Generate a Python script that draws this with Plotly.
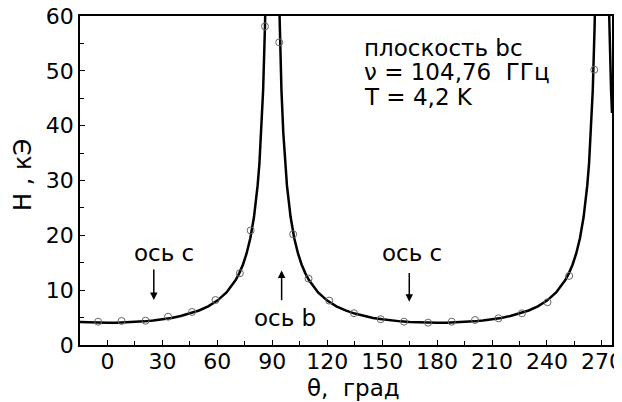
import plotly.graph_objects as go

# measured points (theta, deg ; H, kOe)
theta_pts = [-5.1, 7.7, 20.8, 33.1, 46.2, 59.0, 72.3, 78.2, 86.0, 93.8, 101.4, 109.8,
             121.1, 134.6, 149.2, 161.9, 175.1, 188.0, 200.7, 213.5, 226.3, 240.3, 252.1, 265.8]
H_pts = [4.25, 4.38, 4.43, 5.16, 6.02, 8.2, 13.1, 20.9, 58.1, 55.2, 20.2, 12.1,
         8.1, 5.8, 4.7, 4.25, 4.07, 4.25, 4.56, 4.87, 5.78, 7.8, 12.6, 50.2]

# fitted curve, three branches (None = break at resonance)
theta_fit = [
    -15, -10, -5, 0, 5, 10, 15, 20, 25, 30, 35, 40, 45, 50, 55, 60, 65, 70, 72, 74, 76, 78,
    80, 82, 83, 84, 85, 86, 86.5,
    None,
    93.5, 94, 95, 96, 97, 98, 100, 102, 104, 106, 108, 110, 115, 120, 125, 130, 135, 140,
    145, 150, 155, 160, 165, 170, 175, 180, 185, 190, 195, 200, 205, 210, 215, 220, 225,
    230, 235, 240, 245, 250, 252, 254, 256, 258, 260, 262, 263, 264, 265, 266, 266.5,
    None,
    273.5, 274, 275, 275.5,
]
H_fit = [
    4.19, 4.11, 4.07, 4.05, 4.07, 4.11, 4.19, 4.31, 4.47, 4.68, 4.94, 5.29, 5.73, 6.30, 7.06,
    8.10, 9.58, 11.84, 13.11, 14.69, 16.74, 19.48, 23.33, 29.10, 33.23, 38.75, 46.47, 58.06, 66.3,
    None,
    66.3, 58.06, 46.47, 38.75, 33.23, 29.10, 23.33, 19.48, 16.74, 14.69, 13.11, 11.84, 9.58,
    8.10, 7.06, 6.30, 5.73, 5.29, 4.94, 4.68, 4.47, 4.31, 4.19, 4.11, 4.07, 4.05, 4.07, 4.11,
    4.19, 4.31, 4.47, 4.68, 4.94, 5.29, 5.73, 6.30, 7.06, 8.10, 9.58, 11.84, 13.11, 14.69,
    16.74, 19.48, 23.33, 29.10, 33.23, 38.75, 46.47, 58.06, 66.3,
    None,
    66.3, 58.06, 46.47, 42.3,
]

x_ticks = [0, 30, 60, 90, 120, 150, 180, 210, 240, 270]
y_ticks = [0, 10, 20, 30, 40, 50, 60]

FONT = "DejaVu Sans, Liberation Sans, sans-serif"

fig = go.Figure()
fig.add_trace(go.Scatter(x=theta_fit, y=H_fit, mode="lines", connectgaps=False,
                         line=dict(color="black", width=2.5), showlegend=False))
fig.add_trace(go.Scatter(x=theta_pts, y=H_pts, mode="markers",
                         marker=dict(symbol="circle-open", size=7, color="#666",
                                     line=dict(width=1, color="#666")),
                         showlegend=False))

axis_common = dict(showline=True, linecolor="black", linewidth=1.5, mirror=True,
                   ticks="inside", ticklen=5, tickwidth=1, tickcolor="black",
                   showgrid=False, zeroline=False, automargin=False,
                   ticklabeloverflow="allow",
                   tickfont=dict(family=FONT, size=22, color="black"))

fig.update_xaxes(range=[-15, 275.5], tickvals=x_ticks, ticklabelstandoff=-4,
                 minor=dict(dtick=15, tick0=0, ticks="inside", ticklen=4, tickcolor="black"),
                 **axis_common)
fig.update_yaxes(range=[0, 60], tickvals=y_ticks,
                 minor=dict(dtick=5, tick0=0, ticks="inside", ticklen=4, tickcolor="black"),
                 **axis_common)

ann_font = dict(family=FONT, size=23, color="black")
title_font = dict(family=FONT, size=24, color="black")
annotations = [
    dict(x=0.515, y=-0.131, xref="paper", yref="paper", text="θ,  град", showarrow=False,
         font=dict(family=FONT, size=23, color="black"), xanchor="center", yanchor="middle"),
    dict(x=-0.107, y=0.517, xref="paper", yref="paper", text="H , кЭ", showarrow=False,
         font=title_font, textangle=-90, xanchor="center", yanchor="middle"),
    dict(x=138.8, y=54.2, text="плоскость bc", showarrow=False, xanchor="left", yanchor="middle", font=ann_font),
    dict(x=138.8, y=49.7, text="ν = 104,76  ГГц", showarrow=False, xanchor="left", yanchor="middle", font=ann_font),
    dict(x=138.8, y=45.3, text="T = 4,2 K", showarrow=False, xanchor="left", yanchor="middle", font=ann_font),
    dict(x=30.8, y=16.8, text="ось c", showarrow=False, font=ann_font),
    dict(x=166.1, y=16.7, text="ось c", showarrow=False, font=ann_font),
    dict(x=97, y=4.9, text="ось b", showarrow=False, font=ann_font),
    dict(x=25.3, y=8.2, ax=25.3, ay=14.05, axref="x", ayref="y", text="", showarrow=True,
         arrowhead=2, arrowsize=1, arrowwidth=1.5, arrowcolor="black"),
    dict(x=164.8, y=7.9, ax=164.8, ay=13.4, axref="x", ayref="y", text="", showarrow=True,
         arrowhead=2, arrowsize=1, arrowwidth=1.5, arrowcolor="black"),
    dict(x=95.1, y=13.6, ax=95.1, ay=7.9, axref="x", ayref="y", text="", showarrow=True,
         arrowhead=2, arrowsize=1, arrowwidth=1.5, arrowcolor="black"),
]

# the page body adds an 8 px offset, so the figure is 8 px smaller and margins shifted
fig.update_layout(width=614, height=394, margin=dict(l=72, r=10, t=8, b=57, autoexpand=False),
                  plot_bgcolor="white", paper_bgcolor="white",
                  font=dict(family=FONT, color="black"), annotations=annotations)

fig.write_html("out.html")
